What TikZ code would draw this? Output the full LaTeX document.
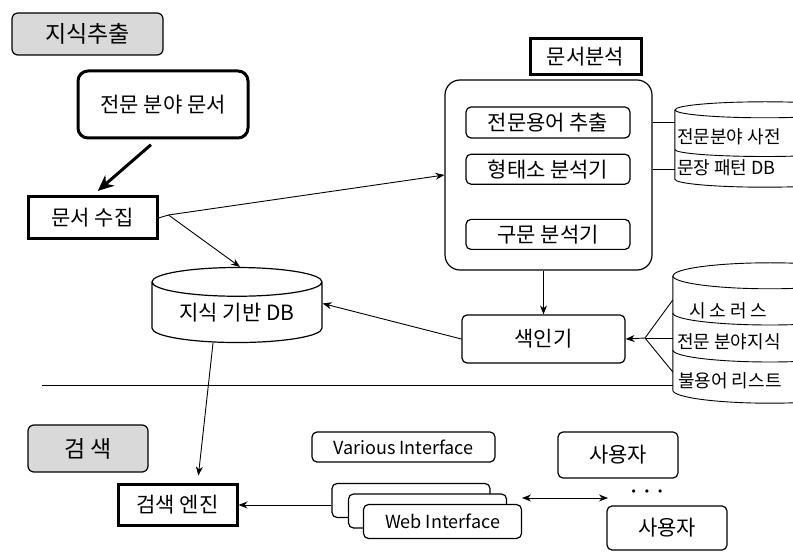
\documentclass[tikz,border=0pt]{standalone}
\usepackage{fontspec}
\setmainfont{Noto Sans CJK KR}
\usetikzlibrary{shapes.geometric,arrows.meta,positioning,calc}
\tikzset{
  >={Stealth[length=9pt,width=7pt]},
  conn/.style    = {->, line width=0.9pt},
  link/.style    = {line width=0.9pt},
  heading/.style = {draw, line width=1.2pt, rounded corners=6pt, fill=gray!30,
                    font=\fontsize{23}{27}\selectfont},
  heavy/.style   = {draw, line width=3pt, font=\fontsize{21}{25}\selectfont},
  module/.style  = {draw, line width=1.2pt, rounded corners=5pt, fill=white,
                    font=\fontsize{21}{25}\selectfont},
  store/.style   = {draw, line width=1.2pt, cylinder, shape border rotate=90,
                    aspect=0.25, inner sep=0pt, fill=white,
                    font=\fontsize{21}{25}\selectfont},
  dbframe/.style = {inner sep=0pt},
  dblabel/.style = {anchor=west, inner sep=0pt, font=\fontsize{18}{22}\selectfont},
  iface/.style   = {module, minimum width=158pt, minimum height=34pt,
                    font=\fontsize{18}{21}\selectfont}
}

\begin{document}
\begin{tikzpicture}[x=1pt,y=1pt]
  \useasboundingbox (0,0) rectangle (793,552);
  % knowledge extraction
  \node[heading, minimum width=151pt, minimum height=42pt] (extract) at (87.5,518) {지식추출};
  \node[draw, line width=3pt, rounded corners=10pt, minimum width=170pt, minimum height=67pt,
        font=\fontsize{21}{25}\selectfont] (source) at (163,447.5) {전문 분야 문서};
  \node[heavy, minimum width=129pt, minimum height=42pt] (collect) at (92.5,334) {문서 수집};
  \node[store, minimum width=170pt, minimum height=75pt] (kbase) at (237,239.5) {지식 기반 DB};

  % document analysis
  \node[heavy, minimum width=111pt, minimum height=36pt] (analysis) at (585.5,495) {문서분석};
  \node[draw, line width=1.2pt, rounded corners=15pt, minimum width=207pt,
        minimum height=190pt] (analyzer) at (548.5,377) {};
  \node[module, minimum width=164pt, minimum height=31pt] (term) at (548,429.5) {전문용어 추출};
  \node[module, minimum width=164pt, minimum height=30pt, below=15pt of term] (morph) {형태소 분석기};
  \node[module, minimum width=164pt, minimum height=30pt, below=34pt of morph] (parse) {구문 분석기};

  % dictionaries (cut by the right edge)
  \node[dbframe, minimum width=180pt, minimum height=85pt] (dict) at (765,407.5) {};
  \draw[link, fill=white] ([yshift=-8pt]dict.north west) -- ([yshift=8pt]dict.south west)
    arc[start angle=180, end angle=360, x radius=90pt, y radius=8pt]
    -- ([yshift=-8pt]dict.north east)
    arc[start angle=0, end angle=180, x radius=90pt, y radius=8pt];
  \draw[link] ([yshift=-8pt]dict.north west) arc[start angle=180, end angle=360, x radius=90pt, y radius=8pt];
  \draw[link] ([yshift=-5pt]dict.west) arc[start angle=180, end angle=360, x radius=90pt, y radius=7pt];
  \node[dblabel] (dictA) at (677,415) {전문분야 사전};
  \node[dblabel] (dictB) at (677,384) {문장 패턴 DB};

  \node[module, minimum width=163pt, minimum height=48pt] (indexer) at (543.5,213) {색인기};
  \node[dbframe, minimum width=194pt, minimum height=140pt] (thes) at (770,219) {};
  \draw[link, fill=white] ([yshift=-13pt]thes.north west) -- ([yshift=13pt]thes.south west)
    arc[start angle=180, end angle=360, x radius=97pt, y radius=13pt]
    -- ([yshift=-13pt]thes.north east)
    arc[start angle=0, end angle=180, x radius=97pt, y radius=13pt];
  \draw[link] ([yshift=-13pt]thes.north west) arc[start angle=180, end angle=360, x radius=97pt, y radius=13pt];
  \draw[link] ([yshift=20pt]thes.west) arc[start angle=180, end angle=360, x radius=97pt, y radius=12pt];
  \draw[link] ([yshift=-17pt]thes.west) arc[start angle=180, end angle=360, x radius=97pt, y radius=12pt];
  \node[dblabel] (thesA) at (689,241) {시 소 러 스};
  \node[dblabel] (thesB) at (677,210) {전문 분야지식};
  \node[dblabel] (thesC) at (678,171) {불용어 리스트};

  % search
  \coordinate (sepline) at (42,167);
  \draw[link] (sepline) -- (sepline -| thes.west);
  \node[heading, minimum width=120pt, minimum height=47pt] (search) at (88,103.5) {검 색};
  \node[heavy, minimum width=119pt, minimum height=40pt] (engine) at (177.5,47) {검색 엔진};
  \node[iface, minimum width=183pt, minimum height=30pt] (various) at (403.5,105) {Various Interface};
  \node[iface] (webA) at (411,51.5) {};
  \node[iface] (webB) at (427.5,41) {};
  \node[iface] (webC) at (442.5,30.5) {Web Interface};
  \node[module, minimum width=120pt, minimum height=46pt] (userA) at (618,97) {사용자};
  \node[font=\fontsize{8}{10}\selectfont] (dots) at (647,60) {$\bullet$\hspace{9pt}$\bullet$\hspace{9pt}$\bullet$};
  \node[module, minimum width=120pt, minimum height=44pt] (userB) at (667,24) {사용자};

  % connectors
  \draw[line width=3pt, -{Stealth[length=16pt,width=14pt]}, shorten <=8pt, shorten >=7pt]
    ([xshift=-6pt]source.south) -- (collect.north);
  \coordinate (fork) at ($(collect.east)+(10,3)$);
  \draw[link] (collect.east) -- (fork);
  \draw[conn] (fork) -- (analyzer.west);
  \draw[conn] (fork) -- ([xshift=3pt]kbase.north);
  \draw[link] (term.east -| analyzer.east) -- (term.east -| dict.west);
  \draw[link] (morph.east -| analyzer.east) -- (morph.east -| dict.west);
  \draw[conn] (indexer.north |- analyzer.south) -- (indexer.north);
  \draw[conn] (indexer.west) -- ([yshift=9pt]kbase.east);
  \coordinate (merge) at (645,214);
  \draw[link] ([yshift=33pt]thes.west) -- (merge);
  \draw[link] ([yshift=-5pt]thes.west) -- (merge);
  \draw[link] ([yshift=-39pt]thes.west) -- (merge);
  \draw[conn] (merge) -- (indexer.east);
  \draw[conn, shorten >=8pt] ([xshift=-24pt]kbase.south) -- ([xshift=20pt]engine.north);
  \draw[conn] (webA.west |- engine.east) -- (engine.east);
  \coordinate (ifaceEnd) at (522,54);
  \coordinate (userEnd) at (608,54);
  \draw[<->, line width=0.9pt] (ifaceEnd) -- (userEnd);
\end{tikzpicture}
\end{document}
